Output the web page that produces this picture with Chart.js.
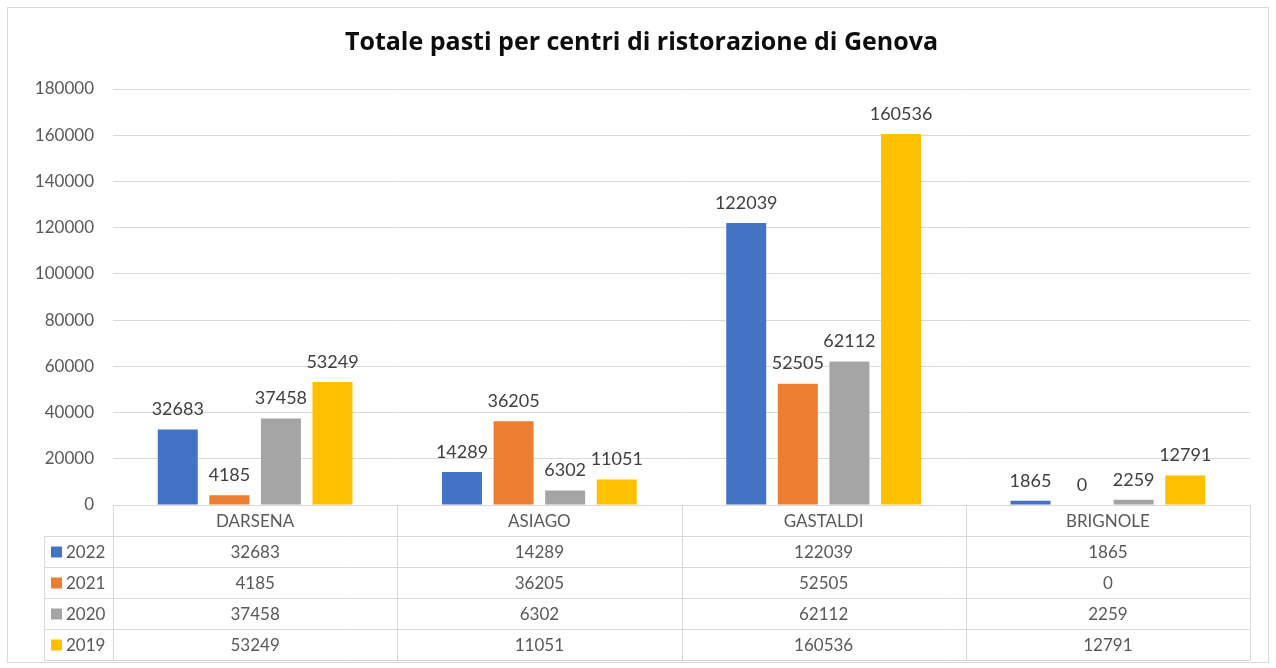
<!DOCTYPE html>
<html>
<head>
<meta charset="utf-8">
<script src="https://cdn.jsdelivr.net/npm/chart.js@4.4.1/dist/chart.umd.min.js"></script>
<style>
html,body{margin:0;padding:0;background:#fff;}
#wrap{position:relative;width:1276px;height:668px;}
canvas{display:block;}
</style>
</head>
<body>
<div id="wrap"><canvas id="c" width="1276" height="668"></canvas></div>
<script>
const categories = ["DARSENA", "ASIAGO", "GASTALDI", "BRIGNOLE"];
const seriesNames = ["2022", "2021", "2020", "2019"];
const v2022 = [32683, 14289, 122039, 1865];
const v2021 = [4185, 36205, 52505, 0];
const v2020 = [37458, 6302, 62112, 2259];
const v2019 = [53249, 11051, 160536, 12791];
const colors = ["#4472C4", "#ED7D31", "#A5A5A5", "#FFC000"];
const titleText = "Totale pasti per centri di ristorazione di Genova";
const yMax = 180000, yStep = 20000;

const FONT = "Lato, 'Open Sans', sans-serif";
const TITLE_FONT = "'Open Sans', Lato, sans-serif";
const seriesValues = [v2022, v2021, v2020, v2019];
const ROW_H = 31;

const labelPlugin = {
  id: 'valueLabels',
  afterDatasetsDraw(chart) {
    const ctx = chart.ctx;
    ctx.save();
    ctx.font = "18px " + FONT;
    ctx.fillStyle = "#404040";
    ctx.textAlign = "center";
    ctx.textBaseline = "middle";
    chart.data.datasets.forEach((ds, di) => {
      const meta = chart.getDatasetMeta(di);
      meta.data.forEach((el, i) => {
        ctx.fillText(String(ds.data[i]), el.x, el.y - 20);
      });
    });
    ctx.restore();
  }
};

const tablePlugin = {
  id: 'dataTable',
  afterDraw(chart) {
    const ctx = chart.ctx;
    const ca = chart.chartArea;
    const n = categories.length;
    const colW = (ca.right - ca.left) / n;
    const top = ca.bottom;
    const legendLeft = 44;
    ctx.save();
    ctx.strokeStyle = "#d9d9d9";
    ctx.lineWidth = 1;
    for (let r = 1; r <= seriesNames.length + 1; r++) {
      const y = Math.round(top + r * ROW_H) + 0.5;
      ctx.beginPath();
      ctx.moveTo(legendLeft, y);
      ctx.lineTo(ca.right, y);
      ctx.stroke();
    }
    for (let c = 0; c <= n; c++) {
      const x = Math.round(ca.left + c * colW) + 0.5;
      ctx.beginPath();
      ctx.moveTo(x, top);
      ctx.lineTo(x, top + (seriesNames.length + 1) * ROW_H + 0.5);
      ctx.stroke();
    }
    ctx.beginPath();
    ctx.moveTo(legendLeft + 0.5, top + ROW_H);
    ctx.lineTo(legendLeft + 0.5, top + (seriesNames.length + 1) * ROW_H + 0.5);
    ctx.stroke();
    ctx.font = "17px " + FONT;
    ctx.fillStyle = "#595959";
    ctx.textAlign = "center";
    ctx.textBaseline = "middle";
    categories.forEach((cat, i) => {
      ctx.fillText(cat, chart.scales.x.getPixelForValue(i), top + ROW_H / 2 + 1);
    });
    seriesNames.forEach((name, r) => {
      const cy = top + (r + 1) * ROW_H + ROW_H / 2 + 1;
      ctx.fillStyle = colors[r];
      ctx.fillRect(51, cy - 6, 11, 11);
      ctx.fillStyle = "#595959";
      ctx.textAlign = "left";
      ctx.fillText(name, 66, cy);
      ctx.textAlign = "center";
      seriesValues[r].forEach((v, i) => {
        ctx.fillText(String(v), chart.scales.x.getPixelForValue(i), cy);
      });
    });
    ctx.strokeStyle = "#d9d9d9";
    ctx.strokeRect(7.5, 7.5, 1261, 655);
    ctx.restore();
  }
};

new Chart(document.getElementById('c'), {
  type: 'bar',
  data: {
    labels: categories,
    datasets: seriesNames.map((name, i) => ({
      label: name,
      data: seriesValues[i],
      backgroundColor: colors[i],
      borderWidth: 0,
      categoryPercentage: 0.726,
      barPercentage: 0.775
    }))
  },
  options: {
    responsive: false,
    animation: false,
    layout: { padding: { left: 33, right: 26, top: 0, bottom: 163 } },
    plugins: {
      legend: { display: false },
      tooltip: { enabled: false },
      title: {
        display: true,
        text: titleText,
        color: "#0d0d0d",
        font: { family: TITLE_FONT, size: 25, weight: 'bold' },
        padding: { top: 28, bottom: 31 }
      }
    },
    scales: {
      x: {
        ticks: { display: false },
        grid: { display: false },
        border: { display: true, color: "#d9d9d9" },
        afterFit(s) { s.height = 0; }
      },
      y: {
        min: 0, max: yMax,
        ticks: { stepSize: yStep, color: "#595959", font: { family: FONT, size: 17 }, padding: 19,
                 callback: (v) => String(v) },
        grid: { color: "#d9d9d9", drawTicks: false },
        border: { display: false },
        afterFit(s) { s.width = 80; }
      }
    }
  },
  plugins: [labelPlugin, tablePlugin]
});
</script>
</body>
</html>
